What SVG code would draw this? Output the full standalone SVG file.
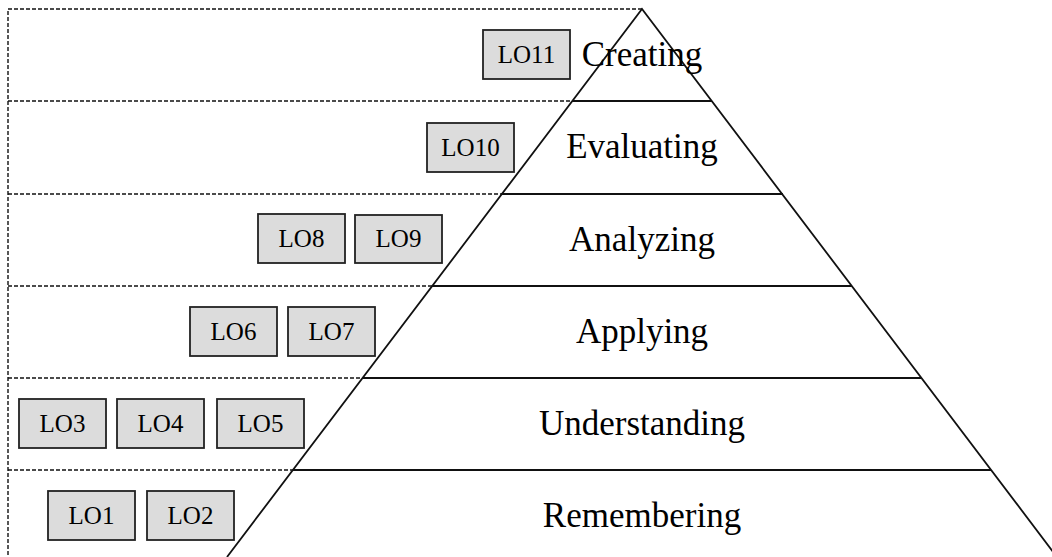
<svg xmlns="http://www.w3.org/2000/svg" width="1052" height="557" viewBox="0 0 1052 557">
<style>
.dash{stroke:#111;stroke-width:1.4;stroke-dasharray:4 2;fill:none}
.solid{stroke:#111;stroke-width:1.8;fill:none}
.box{fill:#dcdcdc;stroke:#222;stroke-width:1.8}
.bt{font-family:"Liberation Serif","Times New Roman",serif;font-size:25px;fill:#000;text-anchor:middle}
.lt{font-family:"Liberation Serif","Times New Roman",serif;font-size:35px;fill:#000;text-anchor:middle}
</style>
<rect width="1052" height="557" fill="#fff"/>
<g id="connectors">
<path class="dash" d="M642,9 H8 V557"/>
<path class="dash" d="M8,101 H572 M8,194 H501 M8,286 H432 M8,378 H363 M8,470 H293"/>
<path class="solid" d="M572,101 H712 M501,194 H783 M432,286 H852 M363,378 H921 M293,470 H991"/>
<path class="solid" d="M227,557 L642,9 L1057,557"/>
</g>
<g id="level-creating"><text class="lt" x="642" y="66">Creating</text></g>
<g id="level-evaluating"><text class="lt" x="642" y="158">Evaluating</text></g>
<g id="level-analyzing"><text class="lt" x="642" y="251">Analyzing</text></g>
<g id="level-applying"><text class="lt" x="642" y="343">Applying</text></g>
<g id="level-understanding"><text class="lt" x="642" y="435">Understanding</text></g>
<g id="level-remembering"><text class="lt" x="642" y="527">Remembering</text></g>
<g id="LO11"><rect class="box" x="483" y="30" width="87" height="49"/><text class="bt" x="526.5" y="63">LO11</text></g>
<g id="LO10"><rect class="box" x="427" y="123" width="87" height="49"/><text class="bt" x="470.5" y="156">LO10</text></g>
<g id="LO8"><rect class="box" x="258" y="214" width="87" height="49"/><text class="bt" x="301.5" y="247">LO8</text></g>
<g id="LO9"><rect class="box" x="355" y="215" width="87" height="48"/><text class="bt" x="398.5" y="247">LO9</text></g>
<g id="LO6"><rect class="box" x="190" y="307" width="87" height="49"/><text class="bt" x="233.5" y="340">LO6</text></g>
<g id="LO7"><rect class="box" x="288" y="307" width="87" height="49"/><text class="bt" x="331.5" y="340">LO7</text></g>
<g id="LO3"><rect class="box" x="19" y="399" width="87" height="49"/><text class="bt" x="62.5" y="432">LO3</text></g>
<g id="LO4"><rect class="box" x="117" y="399" width="87" height="49"/><text class="bt" x="160.5" y="432">LO4</text></g>
<g id="LO5"><rect class="box" x="217" y="399" width="87" height="49"/><text class="bt" x="260.5" y="432">LO5</text></g>
<g id="LO1"><rect class="box" x="48" y="491" width="87" height="49"/><text class="bt" x="91.5" y="524">LO1</text></g>
<g id="LO2"><rect class="box" x="147" y="491" width="87" height="49"/><text class="bt" x="190.5" y="524">LO2</text></g>
</svg>
